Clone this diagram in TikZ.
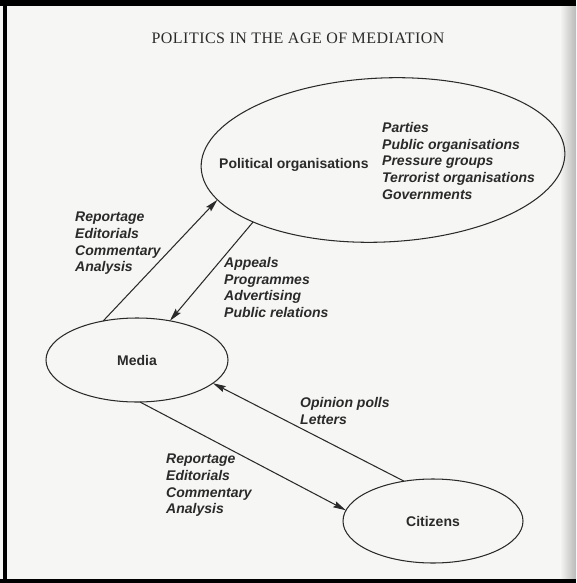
\documentclass[tikz,border=0pt]{standalone}
\usepackage{fontspec}
\setmainfont{Liberation Sans}
\newfontfamily\titlefont[LetterSpace=3]{Liberation Serif}
\usetikzlibrary{shapes.geometric,arrows.meta}
\definecolor{ink}{HTML}{2A2A2A}
\definecolor{paper}{HTML}{F6F6F4}
\begin{document}
\begin{tikzpicture}[x=1pt,y=-1pt,
  oval/.style={ellipse,draw=ink,line width=1.05pt,inner sep=0pt,outer sep=0pt,
    font=\fontsize{14}{16.7}\selectfont\bfseries,text=ink},
  lbl/.style={font=\fontsize{14}{16.7}\selectfont\bfseries\itshape,text=ink,
    align=left,inner sep=0pt,anchor=north west},
  nm/.style={font=\fontsize{14}{16.7}\selectfont\bfseries,text=ink,inner sep=0pt},
  arr/.style={draw=ink,line width=1.05pt,-{Stealth[length=13pt,width=6.5pt,inset=2pt]}}]
\fill[paper] (0,0) rectangle (576,583);
\useasboundingbox (0,0) rectangle (576,583);
\shade[left color=paper,right color=gray!55] (560,6) rectangle (576,579);
\fill[black] (0,0) rectangle (576,6);
\fill[black] (3,0) rectangle (7,583);
\fill[black] (0,579) rectangle (576,583);

\node[font=\titlefont\fontsize{16}{19}\selectfont,text=ink,inner sep=0pt] (title) at (298,38) {POLITICS IN THE AGE OF MEDIATION};

\node[oval,minimum width=364pt,minimum height=164pt,rotate=2.5] (pol) at (383,160) {};
\node[oval,minimum width=182pt,minimum height=84pt] (media) at (137,360) {Media};
\node[oval,minimum width=180pt,minimum height=84pt] (cit) at (433,521) {Citizens};

\node[nm,anchor=west] (polname) at (219,165) {Political organisations};
\node[lbl] (polkinds) at (382,122) {Parties\\Public organisations\\Pressure groups\\Terrorist organisations\\Governments};
\node[lbl] (upfeed) at (75,212) {Reportage\\Editorials\\Commentary\\Analysis};
\node[lbl] (appeals) at (224,257) {Appeals\\Programmes\\Advertising\\Public relations};
\node[lbl] (polls) at (300,397) {Opinion polls\\Letters};
\node[lbl] (downfeed) at (166,454) {Reportage\\Editorials\\Commentary\\Analysis};

\draw[arr] (media.131) -- (pol.191);
\draw[arr] (pol.203) -- (media.50);
\draw[arr] (cit.126) -- (media.343);
\draw[arr] (media.274) -- (cit.173);
\end{tikzpicture}
\end{document}
